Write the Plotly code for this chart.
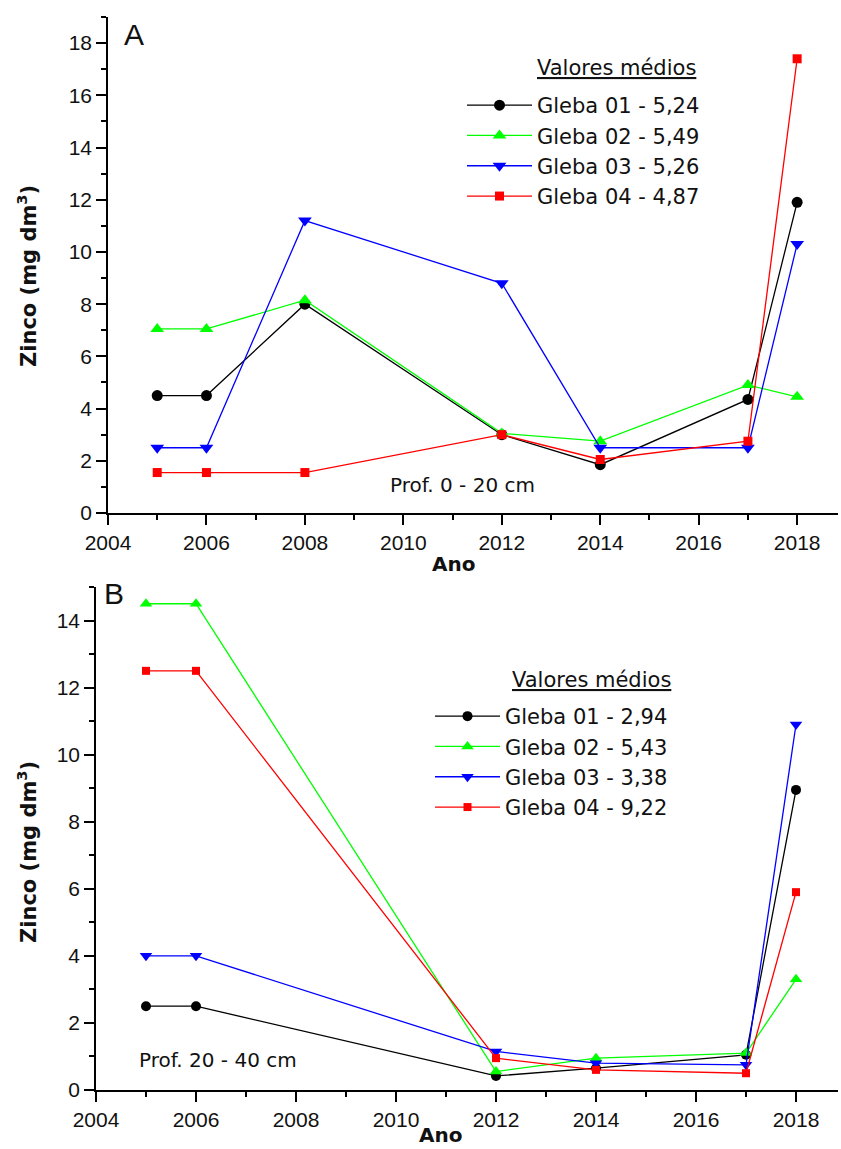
import plotly.graph_objects as go

# Zinc content by plot (gleba) and year, two soil depths
years_a = [2005, 2006, 2008, 2012, 2014, 2017, 2018]
gleba01_a = [4.5, 4.5, 8.0, 3.0, 1.85, 4.35, 11.9]
gleba02_a = [7.05, 7.05, 8.15, 3.05, 2.75, 4.9, 4.45]
gleba03_a = [2.5, 2.5, 11.2, 8.8, 2.5, 2.5, 10.3]
gleba04_a = [1.55, 1.55, 1.55, 3.0, 2.05, 2.75, 17.4]

years_b = [2005, 2006, 2012, 2014, 2017, 2018]
gleba01_b = [2.5, 2.5, 0.42, 0.65, 1.05, 8.95]
gleba02_b = [14.5, 14.5, 0.55, 0.95, 1.1, 3.3]
gleba03_b = [4.0, 4.0, 1.15, 0.8, 0.75, 10.9]
gleba04_b = [12.5, 12.5, 0.95, 0.6, 0.5, 5.9]

labels_a = ["Gleba 01 - 5,24", "Gleba 02 - 5,49", "Gleba 03 - 5,26", "Gleba 04 - 4,87"]
labels_b = ["Gleba 01 - 2,94", "Gleba 02 - 5,43", "Gleba 03 - 3,38", "Gleba 04 - 9,22"]

colors = ["#000000", "#00ff00", "#0000ff", "#ff0000"]
symbols = ["circle", "triangle-up", "triangle-down", "square"]
sizes = [11, 12, 12, 9]

W, H = 841, 1149

def px_x(p):
    return p / W

def px_y(p):
    return 1 - p / H

fig = go.Figure()

series_a = [gleba01_a, gleba02_a, gleba03_a, gleba04_a]
series_b = [gleba01_b, gleba02_b, gleba03_b, gleba04_b]

for i, (vals, name) in enumerate(zip(series_a, labels_a)):
    fig.add_trace(go.Scatter(
        x=years_a, y=vals, name=name, mode="lines+markers",
        line=dict(color=colors[i], width=1.3),
        marker=dict(symbol=symbols[i], size=sizes[i], color=colors[i]),
        xaxis="x", yaxis="y", legend="legend",
    ))

for i, (vals, name) in enumerate(zip(series_b, labels_b)):
    fig.add_trace(go.Scatter(
        x=years_b, y=vals, name=name, mode="lines+markers",
        line=dict(color=colors[i], width=1.3),
        marker=dict(symbol=symbols[i], size=sizes[i] - 1, color=colors[i]),
        xaxis="x2", yaxis="y2", legend="legend2",
    ))

tick_font = dict(family="Liberation Sans, Arial, sans-serif", size=21, color="#111")
axis_common = dict(
    showline=True, linecolor="black", linewidth=1.5, automargin=False,
    ticks="outside", ticklen=10, tickwidth=1.5, tickcolor="black",
    showgrid=False, zeroline=False, tickfont=tick_font, dtick=2,
    minor=dict(dtick=1, ticks="outside", ticklen=5, tickwidth=1.5, tickcolor="black"),
)

legend_font = dict(family="DejaVu Sans", size=21, color="#111")

fig.update_layout(
    template="none",
    width=W, height=H,
    margin=dict(l=0, r=0, t=0, b=0, pad=0),
    paper_bgcolor="white", plot_bgcolor="white",
    xaxis=dict(domain=[px_x(108), px_x(838)], range=[2004, 2018.83],
               anchor="y", tick0=2004, **axis_common),
    yaxis=dict(domain=[px_y(513), px_y(17)], range=[0, 19],
               anchor="x", tick0=0, **axis_common),
    xaxis2=dict(domain=[px_x(96), px_x(838)], range=[2004, 2018.84],
                anchor="y2", tick0=2004, **axis_common),
    yaxis2=dict(domain=[px_y(1090), px_y(587)], range=[0, 15],
                anchor="x2", tick0=0, **axis_common),
    legend=dict(x=px_x(462), y=px_y(85), xanchor="left", yanchor="top",
                font=legend_font,
                bgcolor="rgba(0,0,0,0)", borderwidth=0, itemwidth=65, tracegroupgap=0),
    legend2=dict(x=px_x(430), y=px_y(696), xanchor="left", yanchor="top",
                 font=legend_font,
                 bgcolor="rgba(0,0,0,0)", borderwidth=0, itemwidth=65, tracegroupgap=0),
    showlegend=True,
)

bold_font = dict(family="DejaVu Sans", size=20, color="#111")
notes = [
    # panel letters
    dict(x=px_x(134), y=px_y(34), text="A", font=dict(family="Liberation Sans", size=30, color="#111")),
    dict(x=px_x(114), y=px_y(593), text="B", font=dict(family="Liberation Sans", size=30, color="#111")),
    # legend headings
    dict(x=px_x(698), y=px_y(68), text="<u>Valores médios</u>", xanchor="right",
         font=legend_font),
    dict(x=px_x(673), y=px_y(680), text="<u>Valores médios</u>", xanchor="right",
         font=legend_font),
    # depth notes
    dict(x=px_x(388), y=px_y(485), text="Prof. 0 - 20 cm", xanchor="left",
         font=dict(family="DejaVu Sans", size=20, color="#111")),
    dict(x=px_x(137), y=px_y(1060), text="Prof. 20 - 40 cm", xanchor="left",
         font=dict(family="DejaVu Sans", size=20, color="#111")),
    # axis titles
    dict(x=px_x(453), y=px_y(564), text="<b>Ano</b>", font=bold_font),
    dict(x=px_x(440), y=px_y(1135), text="<b>Ano</b>", font=bold_font),
    dict(x=px_x(27), y=px_y(276), text="<b>Zinco (mg dm<sup>3</sup>)</b>", textangle=-90,
         font=dict(family="DejaVu Sans", size=21, color="#111")),
    dict(x=px_x(27), y=px_y(852), text="<b>Zinco (mg dm<sup>3</sup>)</b>", textangle=-90,
         font=dict(family="DejaVu Sans", size=21, color="#111")),
]
for n in notes:
    n.setdefault("xanchor", "center")
    fig.add_annotation(xref="paper", yref="paper", yanchor="middle", showarrow=False, **n)

fig.write_html("out.html")
